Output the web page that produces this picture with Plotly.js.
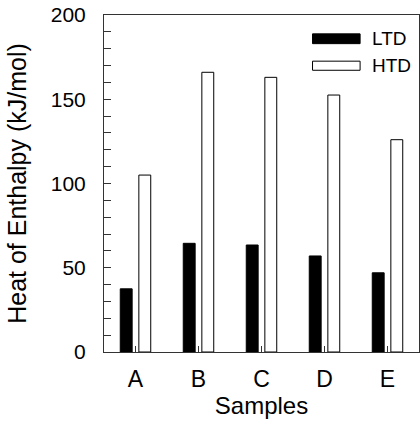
<!DOCTYPE html>
<html>
<head>
<meta charset="utf-8">
<script src="https://cdn.plot.ly/plotly-3.0.1.min.js"></script>
<style>html,body{margin:0;padding:0;background:#fff;}#chart{width:420px;height:422px;}</style>
</head>
<body>
<div id="chart"></div>
<script>
const categories = ["A", "B", "C", "D", "E"];
const ltdValues = [37.5, 64.5, 63.5, 57, 47];
const htdValues = [105, 166, 163, 152.5, 126];
const seriesNames = ["LTD", "HTD"];
const yTickVals = [0, 50, 100, 150, 200];

const FONT = "Liberation Sans, Arial, sans-serif";
const AX = "#333333";

const traces = [
  {type: "bar", name: seriesNames[0], x: categories, y: ltdValues,
   marker: {color: "#000000", line: {color: "#000000", width: 1}}, showlegend: false},
  {type: "bar", name: seriesNames[1], x: categories, y: htdValues,
   marker: {color: "#ffffff", line: {color: "#000000", width: 1}}, showlegend: false}
];

const layout = {
  width: 420, height: 422,
  margin: {l: 103.5, r: 1, t: 14.5, b: 70, pad: 0},
  paper_bgcolor: "#ffffff", plot_bgcolor: "#ffffff",
  font: {family: FONT, color: "#000000"},
  barmode: "group", bargap: 0.41, bargroupgap: 0.36,
  xaxis: {
    type: "category", range: [-0.5, 4.5],
    showline: true, linecolor: AX, linewidth: 1, mirror: true,
    ticks: "inside", ticklen: 6, tickcolor: AX, tickwidth: 1,
    showgrid: false, zeroline: false,
    tickfont: {family: FONT, size: 23, color: "#000"},
    ticklabelstandoff: 6,
    title: {text: "Samples", font: {family: FONT, size: 24, color: "#000"}, standoff: 0}
  },
  yaxis: {
    range: [0, 200], tickvals: yTickVals, ticktext: yTickVals.map(String),
    showline: true, linecolor: AX, linewidth: 1, mirror: true,
    ticks: "inside", ticklen: 7, tickcolor: AX, tickwidth: 1,
    minor: {dtick: 10, ticks: "inside", ticklen: 7, tickcolor: AX, tickwidth: 1, showgrid: false},
    showgrid: false, zeroline: false,
    tickfont: {family: FONT, size: 21, color: "#000"},
    ticklabelstandoff: 13,
    title: {text: "Heat of Enthalpy (kJ/mol)", font: {family: FONT, size: 25, color: "#000"}, standoff: 17}
  },
  shapes: [
    {type: "rect", xref: "paper", yref: "paper", x0: 0.662, x1: 0.813, y0: 0.915, y1: 0.944,
     fillcolor: "#000", line: {color: "#000", width: 1}},
    {type: "rect", xref: "paper", yref: "paper", x0: 0.662, x1: 0.813, y0: 0.836, y1: 0.863,
     fillcolor: "#fff", line: {color: "#000", width: 1}}
  ],
  annotations: [
    {xref: "paper", yref: "paper", x: 0.845, y: 0.929, xanchor: "left", yanchor: "middle",
     text: seriesNames[0], showarrow: false, font: {family: FONT, size: 19, color: "#000"}},
    {xref: "paper", yref: "paper", x: 0.845, y: 0.849, xanchor: "left", yanchor: "middle",
     text: seriesNames[1], showarrow: false, font: {family: FONT, size: 19, color: "#000"}}
  ]
};

Plotly.newPlot("chart", traces, layout, {staticPlot: true, displayModeBar: false});
</script>
</body>
</html>
